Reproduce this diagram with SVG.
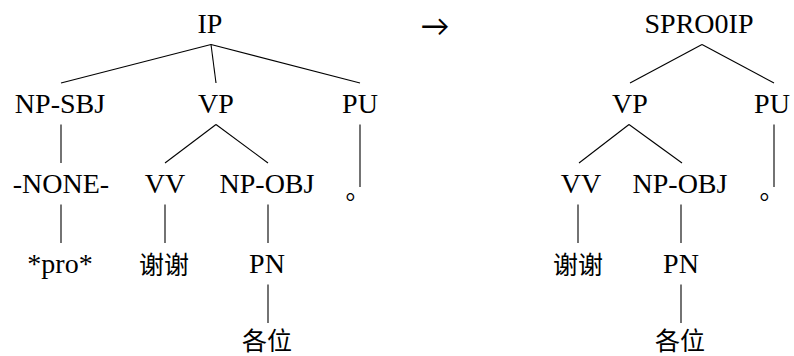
<svg xmlns="http://www.w3.org/2000/svg" width="794" height="356" viewBox="0 0 794 356">
<rect width="794" height="356" fill="#fff"/>
<g id="edges" stroke="#000" stroke-width="1.1">
<line x1="211" y1="44.5" x2="61" y2="83"/>
<line x1="211" y1="44.5" x2="216" y2="83"/>
<line x1="211" y1="44.5" x2="360" y2="83"/>
<line x1="61" y1="124.5" x2="61" y2="163"/>
<line x1="216" y1="124.5" x2="165" y2="163"/>
<line x1="216" y1="124.5" x2="268" y2="163"/>
<line x1="360" y1="124.5" x2="360" y2="187"/>
<line x1="61" y1="204.5" x2="61" y2="243"/>
<line x1="165" y1="204.5" x2="165" y2="243"/>
<line x1="268" y1="204.5" x2="268" y2="243"/>
<line x1="268" y1="284.5" x2="268" y2="323"/>
<line x1="702" y1="44.5" x2="630" y2="83"/>
<line x1="702" y1="44.5" x2="774" y2="83"/>
<line x1="629" y1="124.5" x2="579" y2="163"/>
<line x1="629" y1="124.5" x2="682" y2="163"/>
<line x1="774" y1="124.5" x2="774" y2="187"/>
<line x1="578" y1="204.5" x2="578" y2="243"/>
<line x1="681" y1="204.5" x2="681" y2="243"/>
<line x1="681" y1="284.5" x2="681" y2="323"/>
</g>
<g font-family="Liberation Serif" font-size="28" text-anchor="middle" fill="#000">
<g id="L-IP"><text x="210" y="33">IP</text></g>
<g id="L-NPSBJ"><text x="60" y="113">NP-SBJ</text></g>
<g id="L-VP"><text x="216" y="113">VP</text></g>
<g id="L-PU"><text x="360" y="113">PU</text></g>
<g id="L-NONE"><text x="61" y="193">-NONE-</text></g>
<g id="L-VV"><text x="165" y="193">VV</text></g>
<g id="L-NPOBJ"><text x="267" y="193">NP-OBJ</text></g>
<g id="L-pro"><text x="60" y="273">*pro*</text></g>
<g id="L-PN"><text x="267" y="273">PN</text></g>
<g id="R-SPRO0IP"><text x="699" y="33">SPRO0IP</text></g>
<g id="R-VP"><text x="630" y="113">VP</text></g>
<g id="R-PU"><text x="772" y="113">PU</text></g>
<g id="R-VV"><text x="581" y="193">VV</text></g>
<g id="R-NPOBJ"><text x="680" y="193">NP-OBJ</text></g>
<g id="R-PN"><text x="681" y="273">PN</text></g>
</g>
<g font-family="Noto Sans CJK SC" font-size="25" text-anchor="middle" fill="#000">
<g id="L-period"><text x="358" y="199">。</text></g>
<g id="L-xiexie"><text x="164" y="274">谢谢</text></g>
<g id="L-gewei"><text x="267" y="350">各位</text></g>
<g id="R-period"><text x="772" y="199">。</text></g>
<g id="R-xiexie"><text x="578" y="274">谢谢</text></g>
<g id="R-gewei"><text x="680" y="350">各位</text></g>
</g>
<g id="arrow" font-family="Lato" font-size="29" text-anchor="middle" fill="#000"><text x="435" y="36">→</text></g>
</svg>
